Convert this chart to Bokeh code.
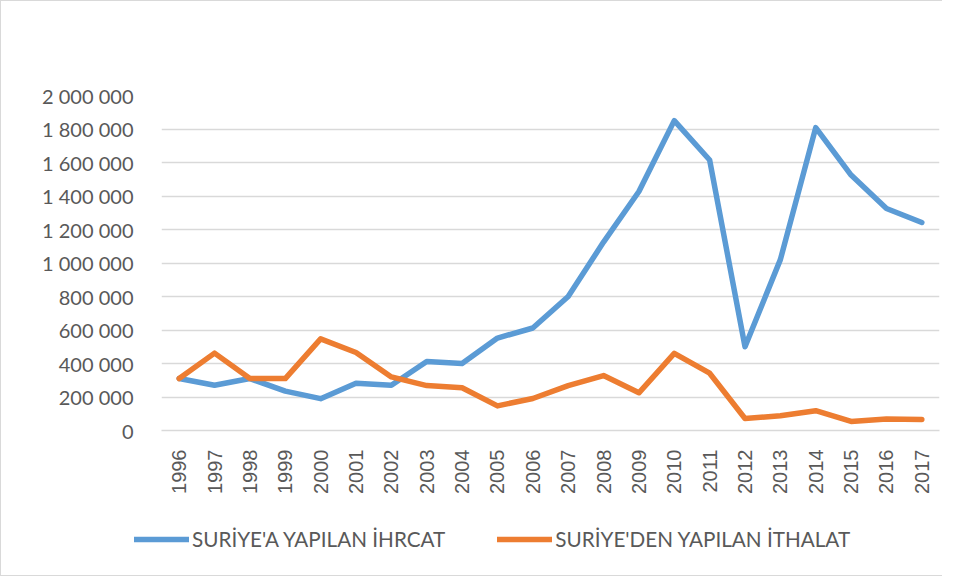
import math
from bokeh.plotting import figure
from bokeh.models import (Range1d, FixedTicker, CustomJSTickFormatter, Legend, LegendItem)
from bokeh.embed import file_html
from bokeh.resources import INLINE

years = list(range(1996, 2018))
ihracat = [310000, 270000, 310000, 235000, 190000, 282000, 270000, 412000, 400000, 552000,
           612000, 800000, 1125000, 1427000, 1850000, 1615000, 500000, 1020000, 1808000, 1525000,
           1325000, 1242000]
ithalat = [310000, 462000, 310000, 310000, 547000, 466000, 320000, 268000, 255000, 147000,
           191000, 268000, 328000, 225000, 460000, 342000, 72000, 88000, 118000, 54000,
           68000, 66000]
y_ticks = [0, 200000, 400000, 600000, 800000, 1000000, 1200000, 1400000, 1600000, 1800000, 2000000]
labels = ["SURİYE'A YAPILAN İHRCAT", "SURİYE'DEN YAPILAN İTHALAT"]
colors = ["#5B9BD5", "#ED7D31"]

gc = "#d9d9d9"
tc = "#595959"

p = figure(width=942, height=504, output_backend="svg", toolbar_location=None,
           x_range=Range1d(1995.5, 2017.5), y_range=Range1d(0, 2000000),
           min_border_left=160, min_border_right=4, min_border_top=94, min_border_bottom=75)
p.outline_line_color = None
p.background_fill_color = "white"
p.styles = {"border-top": "1px solid #d9d9d9", "border-left": "1px solid #d9d9d9"}

p.xgrid.grid_line_color = None
p.ygrid.grid_line_color = gc
p.ygrid.grid_line_width = 1.5
p.yaxis.ticker = FixedTicker(ticks=y_ticks)
p.yaxis.formatter = CustomJSTickFormatter(code="return Math.round(tick).toString().replace(/\\B(?=(\\d{3})+(?!\\d))/g, ' ');")
p.yaxis.axis_line_color = None
p.yaxis.major_tick_line_color = None
p.yaxis.minor_tick_line_color = None
p.yaxis.major_label_text_font = "Lato"
p.yaxis.major_label_text_font_size = "20px"
p.yaxis.major_label_text_color = tc
p.yaxis.major_label_standoff = 22

p.xaxis.ticker = FixedTicker(ticks=years)
p.xaxis.axis_line_color = gc
p.xaxis.axis_line_width = 1.5
p.xaxis.major_tick_line_color = None
p.xaxis.minor_tick_line_color = None
p.xaxis.major_label_orientation = math.pi / 2
p.xaxis.major_label_text_font = "Liberation Sans"
p.xaxis.major_label_text_font_size = "20px"
p.xaxis.major_label_text_color = tc
p.xaxis.major_label_standoff = 13

p.line(years, ihracat, line_color=colors[0], line_width=5.5, line_join="round", line_cap="round")
p.line(years, ithalat, line_color=colors[1], line_width=5.5, line_join="round", line_cap="round")

# legend strip (separate root so its frame is not aligned with the chart's)
p2 = figure(width=942, height=72, output_backend="svg", toolbar_location=None,
            x_range=Range1d(0, 1), y_range=Range1d(0, 1),
            x_axis_location=None, y_axis_location=None,
            min_border_left=0, min_border_right=0, min_border_top=0, min_border_bottom=0)
p2.grid.visible = False
p2.outline_line_color = None
p2.styles = {"border-bottom": "1px solid #d9d9d9", "border-left": "1px solid #d9d9d9"}
d1 = p2.line([-1, -1], [-1, -1], line_color=colors[0], line_width=5.5, line_cap="round")
d2 = p2.line([-1, -1], [-1, -1], line_color=colors[1], line_width=5.5, line_cap="round")
legend = Legend(items=[LegendItem(label=labels[0], renderers=[d1]),
                       LegendItem(label=labels[1], renderers=[d2])],
                orientation="horizontal", location=(133, 25),
                glyph_width=55, glyph_height=20, label_standoff=3, spacing=52,
                padding=0, margin=0, border_line_color=None, background_fill_alpha=0,
                label_text_font="Lato", label_text_font_size="20.7px", label_text_color=tc)
p2.add_layout(legend, "center")

open("out.html", "w").write(file_html([p, p2], INLINE))
